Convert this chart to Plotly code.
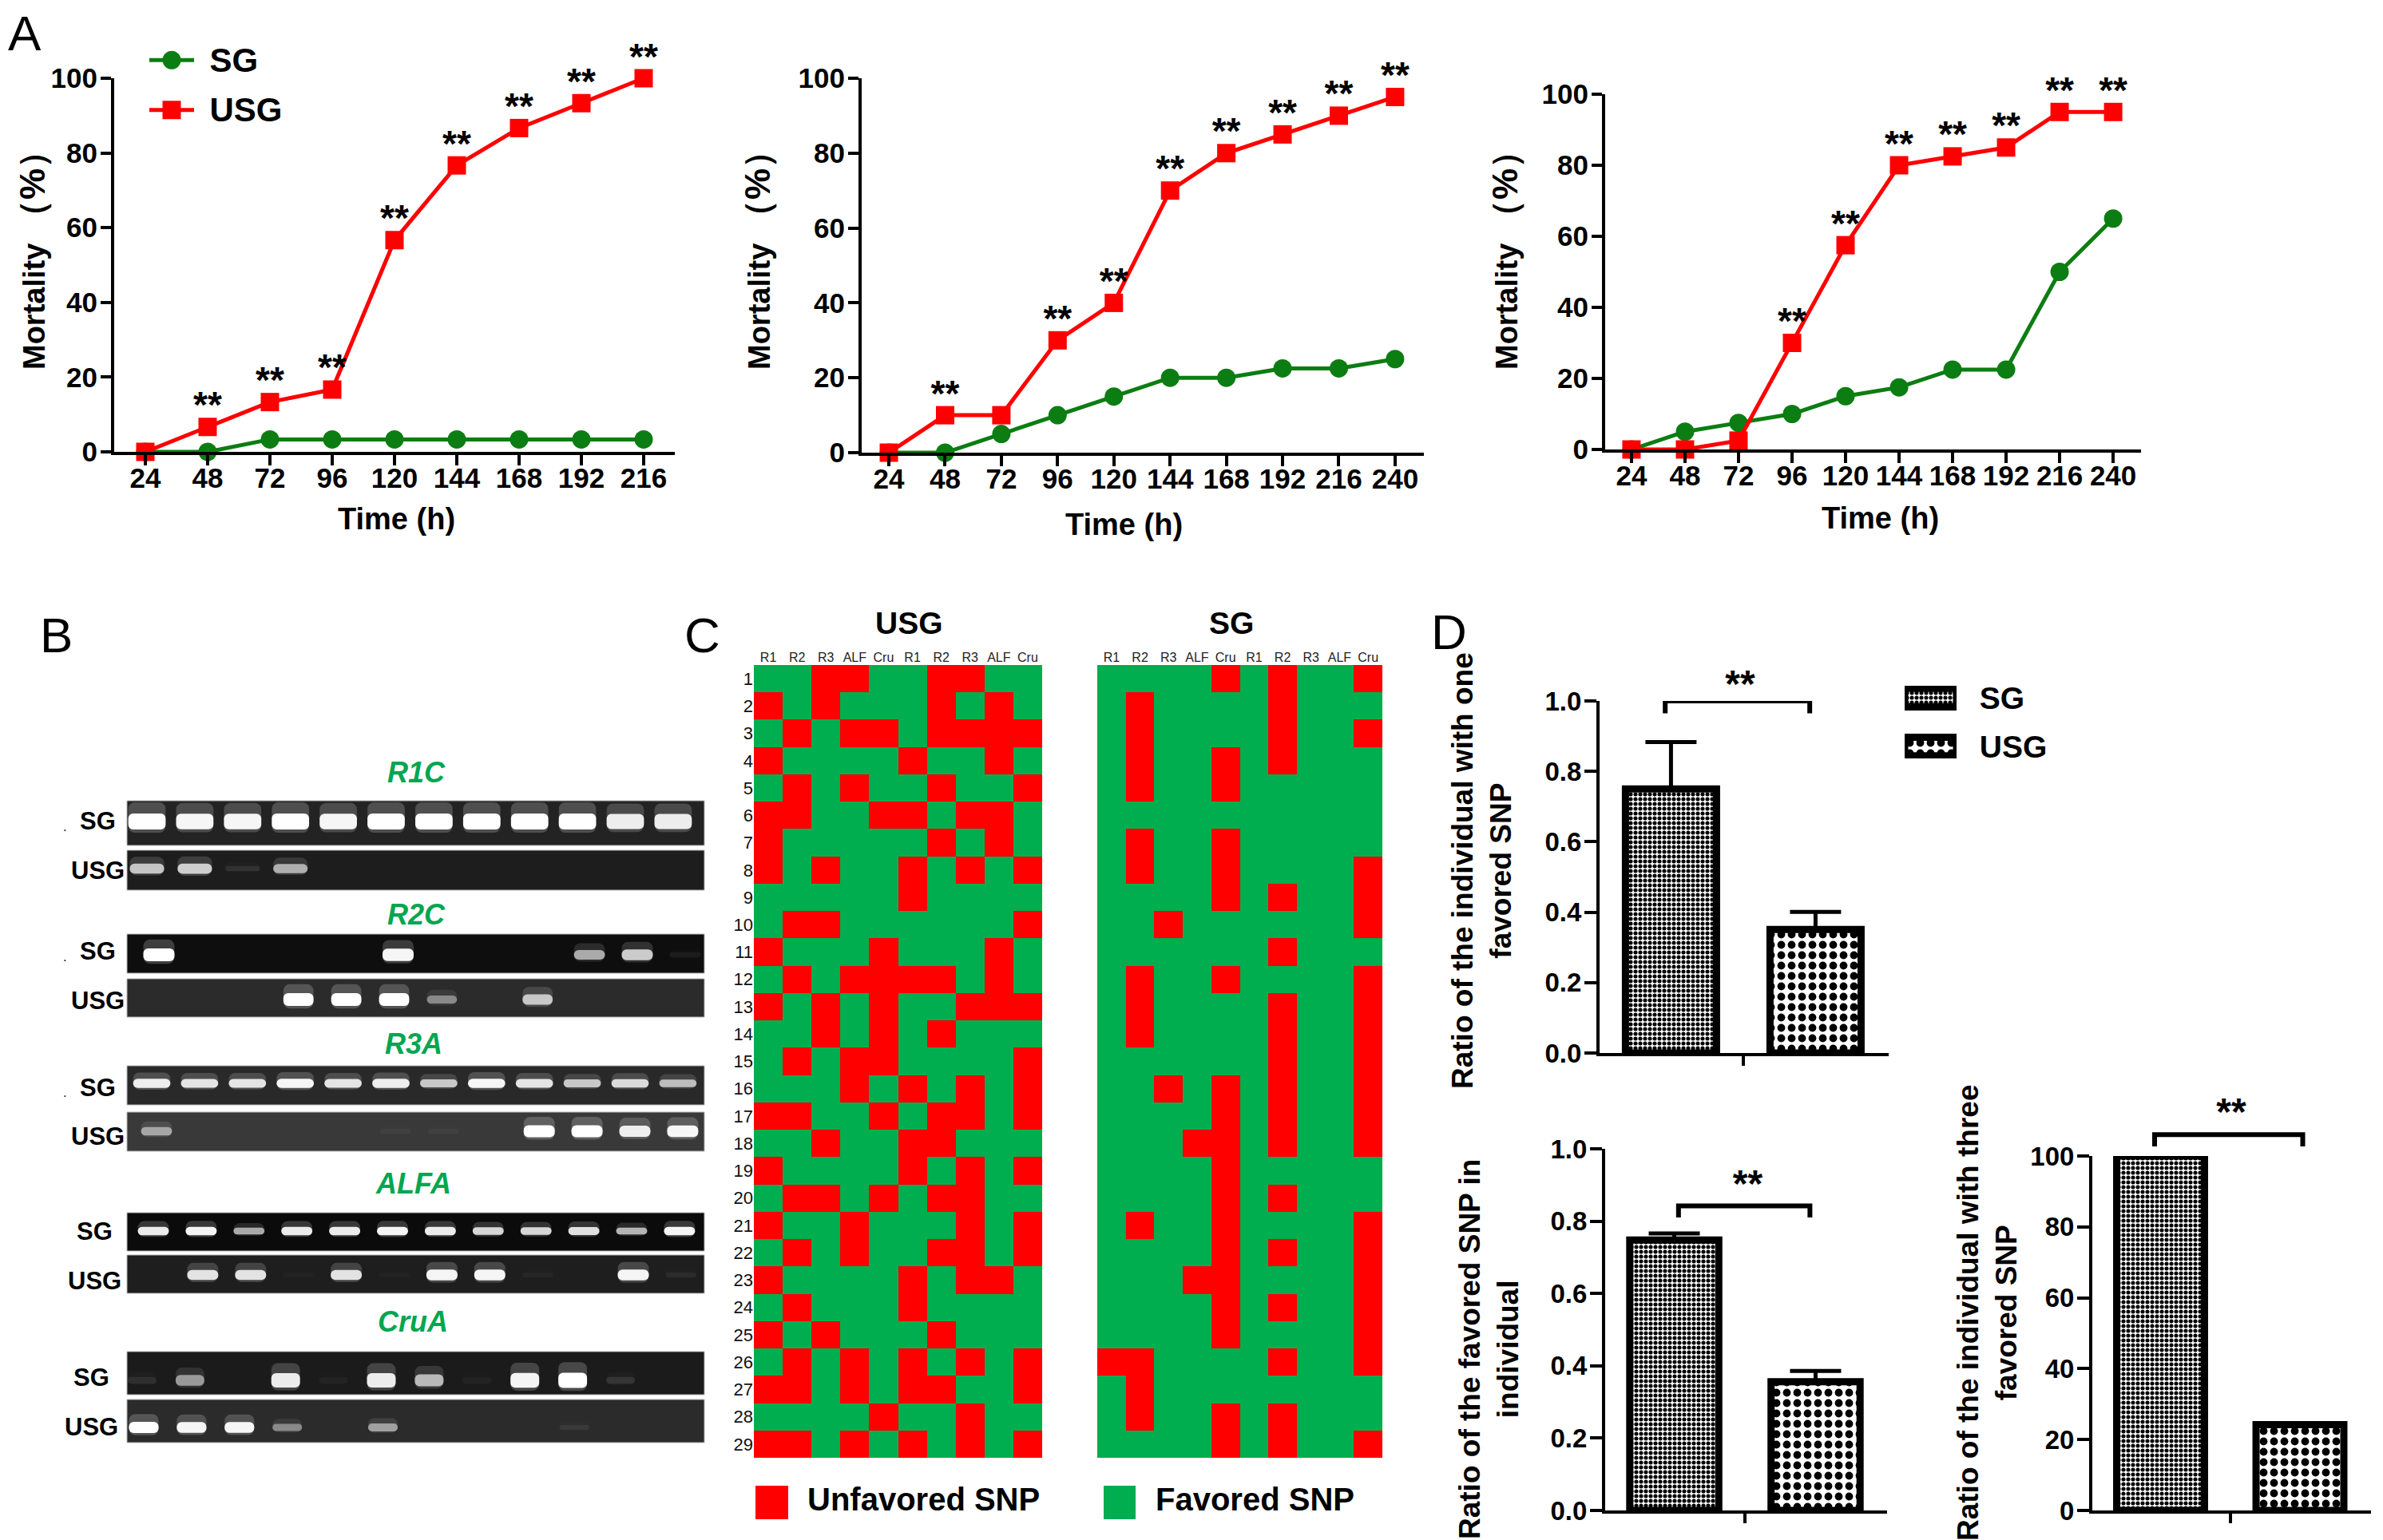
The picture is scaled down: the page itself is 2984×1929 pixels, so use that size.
import plotly.graph_objects as go

W, H = 2984, 1929
FONT = "Liberation Sans"
RED, GREEN, HEAT_GREEN, GENE_GREEN = "#fe0000", "#0c7d12", "#00ad4f", "#00a650"

# ---------- Panel A data ----------
A1_TIME = [24, 48, 72, 96, 120, 144, 168, 192, 216]
A1_SG = [0, 0, 3.33, 3.33, 3.33, 3.33, 3.33, 3.33, 3.33]
A1_USG = [0, 6.67, 13.33, 16.67, 56.67, 76.67, 86.67, 93.33, 100]
A1_STARS = [48, 72, 96, 120, 144, 168, 192, 216]

A2_TIME = [24, 48, 72, 96, 120, 144, 168, 192, 216, 240]
A2_SG = [0, 0, 5, 10, 15, 20, 20, 22.5, 22.5, 25]
A2_USG = [0, 10, 10, 30, 40, 70, 80, 85, 90, 95]
A2_STARS = [48, 96, 120, 144, 168, 192, 216, 240]

A3_TIME = [24, 48, 72, 96, 120, 144, 168, 192, 216, 240]
A3_SG = [0, 5, 7.5, 10, 15, 17.5, 22.5, 22.5, 50, 65]
A3_USG = [0, 0, 2.5, 30, 57.5, 80, 82.5, 85, 95, 95]
A3_STARS = [96, 120, 144, 168, 192, 216, 240]

MORTALITY_TICKS = [0, 20, 40, 60, 80, 100]
GROUPS = ["SG", "USG"]

# ---------- Panel B data: band brightness per lane (0 = none, 1 = saturated) ----------
R1C_SG = [1, .95, .95, 1, .95, 1, 1, 1, 1, 1, .9, .9]
R1C_USG = [.7, .75, .08, .6, 0, 0, 0, 0, 0, 0, 0, 0]
R2C_SG = [1, 0, 0, 0, 0, .95, 0, 0, 0, .6, .75, .05]
R2C_USG = [0, 0, 0, 1, 1, 1, .4, 0, .7, 0, 0, 0]
R3A_SG = [.9, .85, .85, .95, .85, .9, .7, .95, .85, .7, .8, .65]
R3A_USG = [.5, 0, 0, 0, 0, .03, .03, 0, 1, 1, .9, .95]
ALFA_SG = [.9, .95, .6, .9, .9, .95, .9, .8, .8, .85, .65, .95]
ALFA_USG = [0, .85, .85, .02, .85, .02, .95, .95, .03, 0, .95, .05]
CRUA_SG = [.08, .5, 0, .9, .03, .9, .65, .03, .95, 1, .1, 0]
CRUA_USG = [1, .95, .95, .4, 0, .5, 0, 0, 0, .06, 0, 0]
LANES = list(range(1, 13))

# ---------- Panel C data: 1 = unfavored SNP, 0 = favored SNP ----------
SNP_COLUMNS = ["R1", "R2", "R3", "ALF", "Cru", "R1", "R2", "R3", "ALF", "Cru"]
INDIVIDUALS = list(range(1, 30))
USG_SNP = [
    "0011001100", "1010001010", "0101101111", "1000010010", "0101001001",
    "1100110110", "1000001010", "1010010101", "0000010000", "0110000001",
    "1000100010", "0101111010", "1010100111", "0010101000", "0101100001",
    "0001010101", "1100101101", "0010011000", "1000010101", "0110101100",
    "1001000101", "0101001101", "1000010110", "0100010000", "1010001000",
    "0101010101", "1101011001", "0000100100", "1101010101",
]
SG_SNP = [
    "0000101001", "0100001000", "0100001001", "0100101000", "0100100000",
    "0000000000", "0100100000", "0100100001", "0000101001", "0010000001",
    "0000001000", "0100100001", "0100001001", "0100001001", "0000001001",
    "0010101001", "0000101001", "0001101001", "0000100000", "0000101000",
    "0100100001", "0000101001", "0001100001", "0000101001", "0000100001",
    "1100001001", "0100000000", "0100101000", "0000101001",
]

# ---------- Panel D data ----------
BAR_X = [1, 2]
D1_MEAN = [0.75, 0.351]
D1_ERR = [0.133, 0.05]
D2_MEAN = [0.748, 0.356]
D2_ERR = [0.018, 0.03]
D3_MEAN = [100, 24.2]
RATIO_TICKS = [0, 0.2, 0.4, 0.6, 0.8, 1.0]
D1_BRACKET_X, D1_BRACKET_Y = [0.96, 0.96, 1.96, 1.96], [0.965, 1.0, 1.0, 0.965]
D2_BRACKET_X, D2_BRACKET_Y = [1.03, 1.03, 1.96, 1.96], [0.81, 0.842, 0.842, 0.81]
D3_BRACKET_X, D3_BRACKET_Y = [0.957, 0.957, 2.02, 2.02], [102.7, 106, 106, 102.7]

fig = go.Figure()
layout = {}


def px(x):
    return x / W


def py(y):
    return 1 - y / H


def tfont(size, bold=True):
    return dict(family=FONT, size=size, color="black", weight=700 if bold else 400)


def axes(n, box, xa, ya):
    x0, y0, x1, y1 = box
    s = "" if n == 1 else str(n)
    layout["xaxis" + s] = dict(domain=[px(x0), px(x1)], anchor="y" + s, fixedrange=True,
                               showgrid=False, zeroline=False, **xa)
    layout["yaxis" + s] = dict(domain=[py(y1), py(y0)], anchor="x" + s, fixedrange=True,
                               showgrid=False, zeroline=False, **ya)
    return ("x" + s, "y" + s)


annots, shapes = [], []


def text(x, y, s, size, bold=True, color="black", angle=0, anchor="center", italic=False):
    f = dict(family=FONT, size=size, color=color, weight=700 if bold else 400)
    if italic:
        f["style"] = "italic"
    annots.append(dict(x=px(x), y=py(y), xref="paper", yref="paper", text=s, showarrow=False, font=f,
                       textangle=angle, xanchor=anchor, yanchor="middle", align="center"))


def vis_axis(**kw):
    base = dict(showline=True, linecolor="black", linewidth=4, ticks="outside", tickwidth=4,
                tickcolor="black", ticklen=13)
    base.update(kw)
    return base


# ---------- Panel A ----------
A_PANELS = [
    (A1_TIME, A1_SG, A1_USG, A1_STARS, (143, 98, 845, 566), [12, 228]),
    (A2_TIME, A2_SG, A2_USG, A2_STARS, (1079, 98, 1783, 567), [12.4, 252.3]),
    (A3_TIME, A3_SG, A3_USG, A3_STARS, (2010, 118, 2681, 563), [12.2, 252.5]),
]
for i, (t, sg, usg, stars, box, xr) in enumerate(A_PANELS):
    xa, ya = axes(i + 1, box,
                  vis_axis(range=xr, tickmode="array", tickvals=t, tickfont=tfont(35), ticklabelstandoff=-14),
                  vis_axis(range=[0, 100], tickmode="array", tickvals=MORTALITY_TICKS, tickfont=tfont(35),
                           ticklabelstandoff=-3))
    fig.add_trace(go.Scatter(x=t, y=sg, name="SG", mode="lines+markers", xaxis=xa, yaxis=ya, cliponaxis=False,
                             line=dict(color=GREEN, width=5), marker=dict(symbol="circle", size=23, color=GREEN),
                             showlegend=False))
    fig.add_trace(go.Scatter(x=t, y=usg, name="USG", mode="lines+markers", xaxis=xa, yaxis=ya, cliponaxis=False,
                             line=dict(color=RED, width=5), marker=dict(symbol="square", size=23, color=RED),
                             showlegend=False))
    fig.add_trace(go.Scatter(x=stars, y=[usg[t.index(v)] for v in stars], mode="text", text=["**"] * len(stars),
                             textposition="top center", textfont=tfont(46), xaxis=xa, yaxis=ya,
                             cliponaxis=False, showlegend=False, hoverinfo="skip"))

MORT = 'Mortality <span style="font-size:44px">（%）</span>'
text(40, 315, MORT, 38, angle=-90)
text(948, 315, MORT, 38, angle=-90)
text(1884, 315, MORT, 38, angle=-90)
text(496, 650, "Time (h)", 38)
text(1407, 657, "Time (h)", 38)
text(2354, 649, "Time (h)", 38)

# legend of panel A, drawn in its own small axes (native legend markers are size-capped)
xa, ya = axes(21, (187, 44, 243, 169), dict(range=[0, 1], visible=False),
              dict(range=[-0.5, 1.5], side="right", tickmode="array", tickvals=[1, 0], ticktext=GROUPS,
                   tickfont=tfont(42), ticks="outside", ticklen=10, tickcolor="rgba(0,0,0,0)", tickwidth=1))
for k, (col, sym) in enumerate([(GREEN, "circle"), (RED, "square")]):
    fig.add_trace(go.Scatter(x=[0, 0.5, 1], y=[1 - k] * 3, mode="lines", line=dict(color=col, width=5),
                             xaxis=xa, yaxis=ya, showlegend=False, hoverinfo="skip", cliponaxis=False))
    fig.add_trace(go.Scatter(x=[0.5], y=[1 - k], mode="markers", marker=dict(symbol=sym, size=23, color=col),
                             xaxis=xa, yaxis=ya, showlegend=False, hoverinfo="skip", cliponaxis=False))

# ---------- Panel B ----------
GEL_STYLE = [
    # values, top, bottom, first lane px, band centre px, band height px, band width (lanes), background
    (R1C_SG, 1003, 1059, 184, 1029, 20, .78, "#232323"),
    (R1C_USG, 1065, 1115, 184, 1088, 15, .72, "#1d1d1d"),
    (R2C_SG, 1170, 1219, 199, 1196, 16, .65, "#0e0e0e"),
    (R2C_USG, 1226, 1274, 194, 1252, 16, .63, "#2b2b2b"),
    (R3A_SG, 1335, 1384, 190, 1357, 12, .78, "#292929"),
    (R3A_USG, 1393, 1442, 196, 1417, 15, .65, "#393939"),
    (ALFA_SG, 1519, 1567, 192, 1542, 11, .65, "#0b0b0b"),
    (ALFA_USG, 1572, 1620, 194, 1597, 14, .65, "#1e1e1e"),
    (CRUA_SG, 1693, 1747, 178, 1729, 19, .6, "#1b1b1b"),
    (CRUA_USG, 1753, 1807, 180, 1788, 14, .62, "#2b2b2b"),
]
LANE_PX = 59.9
GEL_X0, GEL_X1 = 159, 882
hidden = dict(visible=False)
for j, (vals, top, bot, first, yc, h, bw, bg) in enumerate(GEL_STYLE):
    xr = [1 + (GEL_X0 - first) / LANE_PX, 1 + (GEL_X1 - first) / LANE_PX]
    xa, ya = axes(4 + j, (GEL_X0, top, GEL_X1, bot), dict(range=xr, **hidden), dict(range=[bot, top], **hidden))
    shapes.append(dict(type="rect", xref="paper", yref="paper", x0=px(GEL_X0), x1=px(GEL_X1), y0=py(bot), y1=py(top),
                       fillcolor=bg, line=dict(color="#b5b5b5", width=1), layer="below"))
    hs = [h * (0.4 + 0.6 * v) for v in vals]
    fig.add_trace(go.Bar(x=LANES, y=[q * 1.9 for q in hs], base=[yc - q * 1.2 for q in hs], width=bw,
                         xaxis=xa, yaxis=ya, showlegend=False, hoverinfo="skip",
                         marker=dict(color=[f"rgba(255,255,255,{0.2 * v:.3f})" for v in vals],
                                     line=dict(width=0), cornerradius=8)))
    fig.add_trace(go.Bar(x=LANES, y=hs, base=[yc - q / 2 for q in hs], width=bw,
                         xaxis=xa, yaxis=ya, showlegend=False, hoverinfo="skip",
                         marker=dict(color=[f"rgba(255,255,255,{v:.3f})" for v in vals],
                                     line=dict(width=0), cornerradius=6)))

for s, x, y in [("R1C", 521, 968), ("R2C", 521, 1145), ("R3A", 518, 1307), ("ALFA", 517, 1482), ("CruA", 517, 1655)]:
    text(x, y, s, 36, color=GENE_GREEN, italic=True)
for s, x, y in [("SG", 122, 1028), ("USG", 122, 1090), ("SG", 122, 1191), ("USG", 122, 1253), ("SG", 122, 1362),
                ("USG", 122, 1423), ("SG", 118, 1542), ("USG", 118, 1604), ("SG", 114, 1725), ("USG", 114, 1787)]:
    text(x, y, s, 31)
for y in (1035, 1198, 1368):
    text(81, y, ".", 16, bold=False)

# ---------- Panel C ----------
HEAT_SCALE = [[0, HEAT_GREEN], [0.5, HEAT_GREEN], [0.5, RED], [1, RED]]
COL_IDX = list(range(1, 11))
for n, rows, box, show_rows in [(14, USG_SNP, (944, 833, 1305, 1826), True), (15, SG_SNP, (1374, 833, 1731, 1826), False)]:
    xa, ya = axes(n, box,
                  dict(range=[0.5, 10.5], side="top", tickmode="array", tickvals=COL_IDX, ticktext=SNP_COLUMNS,
                       tickfont=dict(family=FONT, size=16, color="#222"), ticks=""),
                  dict(range=[29.5, 0.5], tickmode="array", tickvals=INDIVIDUALS, showticklabels=show_rows,
                       tickfont=dict(family=FONT, size=22, color="#111"), ticks=""))
    z = [[int(c) for c in r] for r in rows]
    fig.add_trace(go.Heatmap(z=z, x=COL_IDX, y=INDIVIDUALS, xaxis=xa, yaxis=ya, zmin=0, zmax=1,
                             colorscale=HEAT_SCALE, showscale=False, hoverinfo="skip"))
text(1138, 780, "USG", 39)
text(1542, 780, "SG", 39)
shapes.append(dict(type="rect", xref="paper", yref="paper", x0=px(946), x1=px(987), y0=py(1903), y1=py(1861),
                   fillcolor=RED, line=dict(width=0)))
shapes.append(dict(type="rect", xref="paper", yref="paper", x0=px(1382), x1=px(1422), y0=py(1903), y1=py(1861),
                   fillcolor=HEAT_GREEN, line=dict(width=0)))
text(1009, 1878, "Unfavored SNP", 40, anchor="left")
text(1445, 1878, "Favored SNP", 40, anchor="left")

# ---------- Panel D ----------
PAT_SG = dict(shape=".", size=6, solidity=0.56, fgcolor="black", bgcolor="white", fillmode="replace")
PAT_USG = dict(shape=".", size=13, solidity=0.45, fgcolor="black", bgcolor="white", fillmode="replace")
D_PANELS = [
    (16, (2003, 878, 2365, 1319), [0, 1], RATIO_TICKS, ".1f", D1_MEAN, D1_ERR, D1_BRACKET_X, D1_BRACKET_Y, 1.478, 0.985, [0.506, 2.506]),
    (17, (2010, 1439, 2363, 1892), [0, 1], RATIO_TICKS, ".1f", D2_MEAN, D2_ERR, D2_BRACKET_X, D2_BRACKET_Y, 1.52, 0.842, [0.511, 2.506]),
    (18, (2620, 1448, 2969, 1892), [0, 100], MORTALITY_TICKS, "d", D3_MEAN, None, D3_BRACKET_X, D3_BRACKET_Y, 1.507, 106, [0.51, 2.51]),
]
for n, box, yr, yt, fmt, mean, err, bx, by, sx, sy, xr in D_PANELS:
    xa, ya = axes(n, box,
                  vis_axis(range=xr, tickmode="array", tickvals=[1.5], showticklabels=False, ticklen=12),
                  vis_axis(range=yr, tickmode="array", tickvals=yt, tickformat=fmt, tickfont=tfont(33), ticklen=15,
                           ticklabelstandoff=-3))
    for k, pat in enumerate([PAT_SG, PAT_USG]):
        e = None
        if err is not None:
            e = dict(type="data", array=[err[k]], arrayminus=[0], symmetric=False, color="black", thickness=5, width=32)
        fig.add_trace(go.Bar(x=[BAR_X[k]], y=[mean[k]], width=0.63, xaxis=xa, yaxis=ya, error_y=e,
                             showlegend=False, hoverinfo="skip",
                             marker=dict(color="white", pattern=pat, line=dict(color="black", width=9))))
    if n == 18:
        # the bracket of this panel stands above the 0-100 axis: same scale, hidden taller axes
        top = 1376
        xa, ya = axes(20, (box[0], top, box[2], box[3]), dict(range=xr, visible=False),
                      dict(range=[0, (box[3] - top) / (box[3] - box[1]) * 100], visible=False))
    fig.add_trace(go.Scatter(x=bx, y=by, mode="lines", line=dict(color="black", width=6), xaxis=xa, yaxis=ya,
                             cliponaxis=False, showlegend=False, hoverinfo="skip"))
    fig.add_trace(go.Scatter(x=[sx], y=[sy], mode="text", text=["**"], textposition="top center", textfont=tfont(48),
                             xaxis=xa, yaxis=ya, cliponaxis=False, showlegend=False, hoverinfo="skip"))

text(1855, 1091, "Ratio of the individual with one<br>favored SNP", 37, angle=-90)
text(1864, 1690, "Ratio of the favored SNP in<br>individual", 37, angle=-90)
text(2488, 1645, "Ratio of the individual with three<br>favored SNP", 37, angle=-90)

# legend swatches of panel D
xa, ya = axes(19, (2385, 859, 2450, 950), dict(range=[0, 1], visible=False),
              dict(range=[-0.244, 1.244], side="right", tickmode="array", tickvals=[1, 0], ticktext=GROUPS,
                   tickfont=tfont(39), ticks="outside", ticklen=20, tickcolor="rgba(0,0,0,0)", tickwidth=1))
for k, pat in enumerate([PAT_SG, PAT_USG]):
    fig.add_trace(go.Bar(x=[1], y=[1 - k], width=0.38, orientation="h", xaxis=xa, yaxis=ya, showlegend=False,
                         hoverinfo="skip", marker=dict(color="white", pattern=pat, line=dict(color="black", width=9))))

# panel letters
for s, x, y in [("A", 31, 42), ("B", 70, 795), ("C", 879, 795), ("D", 1814, 792)]:
    text(x, y, s, 62, bold=False)

fig.update_layout(
    width=W, height=H, margin=dict(l=0, r=0, t=0, b=0, autoexpand=False), autosize=False,
    paper_bgcolor="white", plot_bgcolor="rgba(0,0,0,0)", barmode="overlay", showlegend=False,
    annotations=annots, shapes=shapes,
    **layout,
)
fig.write_html("out.html", config={"displayModeBar": False},
               post_script="document.body.style.margin='0';document.body.style.overflow='hidden';")
